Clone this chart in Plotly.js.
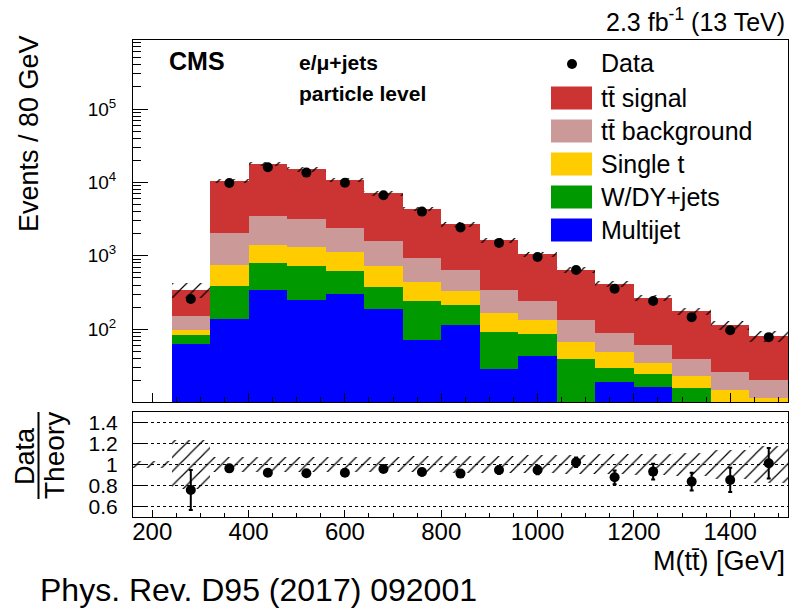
<!DOCTYPE html>
<html><head><meta charset="utf-8">
<script src="https://cdn.plot.ly/plotly-3.0.1.min.js"></script>
<style>html,body{margin:0;padding:0;background:#fff}</style>
</head><body><div id="chart" style="width:790px;height:608px"></div>
<script>
// ---- data ----
const binCenters   = [280, 360, 440, 520, 600, 680, 760, 840, 920, 1000, 1080, 1160, 1240, 1320, 1400, 1480];
const multijet     = [62, 137, 340, 249, 300, 186, 71, 113, 28.5, 43, 4, 19.1, 16.2, 3, 2, 1];
const wdyJets      = [21, 249, 448, 467, 325, 188, 168, 99, 62.5, 44, 35, 10.5, 8.7, 12.7, 3, 2];
const singleTop    = [14, 354, 612, 599, 485, 357, 202, 118, 73, 47, 27.5, 18.9, 9.8, 7.6, 9.7, 8.6];
const ttBackground = [53, 1320, 2115, 1815, 1300, 854, 499, 308, 176, 109, 67.5, 40.5, 27.1, 16.5, 11.5, 8.5];
const ttSignal     = [197, 8390, 14285, 11970, 8490, 5515, 3430, 2042, 1280, 802, 504, 322, 205, 136, 89, 60];
const dataEvents   = [258, 9800, 16100, 13600, 9900, 6700, 4000, 2440, 1500, 965, 640, 355, 242, 146, 97, 78];
const ratio        = [0.757, 0.962, 0.921, 0.915, 0.921, 0.956, 0.927, 0.912, 0.946, 0.946, 1.019, 0.877, 0.931, 0.836, 0.852, 1.01];
const ratioErr     = [0.19, 0.02, 0.02, 0.02, 0.02, 0.025, 0.03, 0.03, 0.035, 0.04, 0.045, 0.065, 0.075, 0.085, 0.115, 0.145];
const bandRelUnc   = [0.235, 0.07, 0.07, 0.07, 0.07, 0.07, 0.075, 0.08, 0.08, 0.085, 0.09, 0.095, 0.10, 0.11, 0.14, 0.175];
const underflowCenter = 200;
const underflowBand   = 0.03;
const seriesNames  = ['Multijet', 'W/DY+jets', 'Single t', 'tt\u0304 background', 'tt\u0304 signal'];
const seriesColors = ['#0000ff', '#009900', '#ffcc00', '#cc9999', '#cc3333'];
const yTickVals  = [100, 1000, 10000, 100000];
const yTickText  = ['10<sup>2</sup>', '10<sup>3</sup>', '10<sup>4</sup>', '10<sup>5</sup>'];
const rTickVals  = [0.6, 0.8, 1, 1.2, 1.4];
const rTickText  = ['0.6', '0.8', '1', '1.2', '1.4'];
const xTickVals  = [200, 400, 600, 800, 1000, 1200, 1400];
const xTickText  = ['200', '400', '600', '800', '1000', '1200', '1400'];

// ---- geometry helpers ----
const W = 790, H = 608, ML = 133, MR = 2, MT = 40, MB = 91;
const PW = W - ML - MR, PH = H - MT - MB;
const px = x => (x - ML) / PW;
const py = y => (H - MB - y) / PH;
const FONT = 'Liberation Sans, Arial, Helvetica, sans-serif';

// cumulative stack
const comps = [multijet, wdyJets, singleTop, ttBackground, ttSignal];
const cum = [];
comps.forEach((c, k) => {
  cum.push(c.map((v, i) => v + (k > 0 ? cum[k - 1][i] : 0)));
});
const total = cum[cum.length - 1];

const traces = [];
for (let k = comps.length - 1; k >= 0; k--) {
  traces.push({
    type: 'bar', x: binCenters, y: cum[k], width: 80,
    marker: {color: seriesColors[k], line: {width: 0}},
    name: seriesNames[k], showlegend: false, hoverinfo: 'skip',
    xaxis: 'x', yaxis: 'y'
  });
}
const hatch = {shape: '/', fgcolor: '#000', fgopacity: 1, bgcolor: 'rgba(0,0,0,0)', size: 10, solidity: 0.12, fillmode: 'overlay'};
traces.push({
  type: 'bar', x: binCenters, width: 80,
  base: total.map((t, i) => t * (1 - bandRelUnc[i])),
  y: total.map((t, i) => t * 2 * bandRelUnc[i]),
  marker: {color: 'rgba(0,0,0,0)', line: {width: 0}, pattern: hatch},
  showlegend: false, hoverinfo: 'skip', xaxis: 'x', yaxis: 'y'
});
traces.push({
  type: 'scatter', mode: 'markers', x: binCenters, y: dataEvents,
  marker: {color: '#000', size: 10}, showlegend: false, xaxis: 'x', yaxis: 'y'
});
// ratio panel
traces.push({
  type: 'bar', x: [underflowCenter].concat(binCenters), width: 80,
  base: [1 - underflowBand].concat(bandRelUnc.map(u => 1 - u)),
  y: [2 * underflowBand].concat(bandRelUnc.map(u => 2 * u)),
  marker: {color: 'rgba(0,0,0,0)', line: {width: 0}, pattern: hatch},
  showlegend: false, hoverinfo: 'skip', xaxis: 'x2', yaxis: 'y2'
});
traces.push({
  type: 'scatter', mode: 'markers', x: binCenters, y: ratio,
  error_y: {type: 'data', array: ratioErr, color: '#000', thickness: 2, width: 2},
  marker: {color: '#000', size: 10}, showlegend: false, xaxis: 'x2', yaxis: 'y2'
});

// legend (drawn)
const shapes = [];
const annotations = [];
const legRows = [98, 131, 164, 197, 230];
const legOrder = [4, 3, 2, 1, 0];
shapes.push({type: 'circle', xref: 'paper', yref: 'paper', x0: px(567), x1: px(577), y0: py(69), y1: py(59),
  fillcolor: '#000', line: {width: 0}});
annotations.push({xref: 'paper', yref: 'paper', x: px(599), y: py(63), xanchor: 'left', yanchor: 'middle',
  text: 'Data', showarrow: false, font: {size: 25, color: '#000', family: FONT}});
legRows.forEach((cy, r) => {
  const k = legOrder[r];
  shapes.push({type: 'rect', xref: 'paper', yref: 'paper', x0: px(551), x1: px(592), y0: py(cy + 11.5), y1: py(cy - 11.5),
    fillcolor: seriesColors[k], line: {width: 0}});
  annotations.push({xref: 'paper', yref: 'paper', x: px(599), y: py(cy), xanchor: 'left', yanchor: 'middle',
    text: seriesNames[k], showarrow: false, font: {size: 25, color: '#000', family: FONT}});
});
// fraction line for Data/Theory
shapes.push({type: 'line', xref: 'paper', yref: 'paper', x0: px(38.5), x1: px(38.5), y0: py(412), y1: py(499),
  line: {color: '#000', width: 2}});

const txt = (x, y, text, size, xa, opts) => Object.assign({xref: 'paper', yref: 'paper', x: px(x), y: py(y),
  xanchor: xa, yanchor: 'middle', text: text, showarrow: false, font: {size: size, color: '#000', family: FONT}}, opts || {});
annotations.push(txt(167, 61, '<b>CMS</b>', 25, 'left'));
annotations.push(txt(297, 63, '<b>e/\u03bc+jets</b>', 21, 'left'));
annotations.push(txt(297, 93, '<b>particle level</b>', 21, 'left'));
annotations.push(txt(787, 20, '2.3 fb<sup>-1</sup> (13 TeV)', 25, 'right'));
annotations.push(txt(787, 561, 'M(tt\u0304) [GeV]', 27, 'right'));
annotations.push(txt(38, 590, 'Phys. Rev. D95 (2017) 092001', 32, 'left'));
annotations.push(txt(29, 134, 'Events / 80 GeV', 27, 'center', {textangle: -90}));
annotations.push(txt(25, 456, 'Data', 27, 'center', {textangle: -90}));
annotations.push(txt(54, 456, 'Theory', 28, 'center', {textangle: -90}));

const axisCommon = {showline: true, linecolor: '#000', linewidth: 1, mirror: true, zeroline: false,
  ticks: 'inside', tickcolor: '#000', fixedrange: true};
const minorLogVals = [];
for (let e = 1; e <= 5; e++) for (let d = 2; d <= 9; d++) minorLogVals.push(d * Math.pow(10, e));

const layout = {
  width: W, height: H, margin: {l: ML, r: MR, t: MT, b: MB},
  paper_bgcolor: '#fff', plot_bgcolor: '#fff', barmode: 'overlay', bargap: 0,
  showlegend: false, font: {family: FONT, color: '#000'},
  xaxis: Object.assign({}, axisCommon, {anchor: 'y', domain: [0, 1], range: [160, 1520], showticklabels: false,
    tickvals: xTickVals, ticklen: 9, showgrid: false,
    minor: {ticks: 'inside', ticklen: 5, dtick: 50, tick0: 0, tickcolor: '#000', showgrid: false}}),
  yaxis: Object.assign({}, axisCommon, {anchor: 'x', domain: [py(402), 1], type: 'log',
    range: [Math.log10(10.2), 5.94], tickvals: yTickVals, ticktext: yTickText, ticklen: 15, showgrid: false,
    tickfont: {size: 19}, ticklabelstandoff: 12,
    minor: {ticks: 'inside', ticklen: 8, tickvals: minorLogVals, tickcolor: '#000', showgrid: false}}),
  xaxis2: Object.assign({}, axisCommon, {anchor: 'y2', domain: [0, 1], range: [160, 1520],
    tickvals: xTickVals, ticktext: xTickText, ticklen: 7, showgrid: false, tickfont: {size: 24},
    ticklabelstandoff: -7,
    minor: {ticks: 'inside', ticklen: 4, dtick: 50, tick0: 0, tickcolor: '#000', showgrid: false}}),
  yaxis2: Object.assign({}, axisCommon, {anchor: 'x2', domain: [0, py(411.7)], range: [0.5, 1.5],
    tickvals: rTickVals, ticktext: rTickText, ticklen: 13, tickfont: {size: 21}, ticklabelstandoff: 10,
    showgrid: true, gridcolor: '#000', griddash: 'dot', gridwidth: 1}),
  shapes: shapes, annotations: annotations
};
Plotly.newPlot('chart', traces, layout, {staticPlot: true, displayModeBar: false});
</script></body></html>
